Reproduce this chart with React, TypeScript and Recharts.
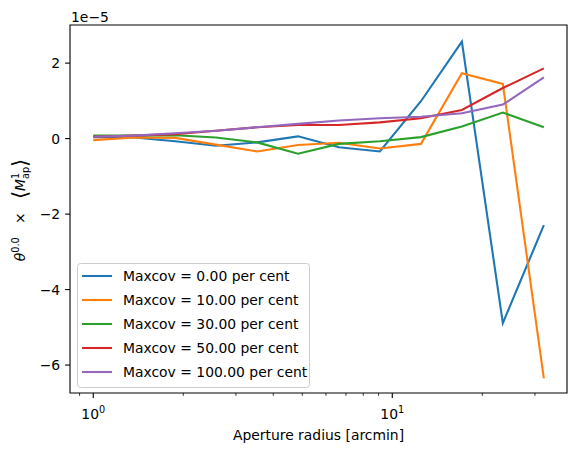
import React from "react";
import { LineChart, Line, XAxis, YAxis, ReferenceArea, Legend } from "recharts";

const radii = [1.0, 1.37, 1.88, 2.57, 3.53, 4.84, 6.63, 9.09, 12.47, 17.09, 23.43, 32.13];
const seriesNames = [
  "Maxcov = 0.00 per cent",
  "Maxcov = 10.00 per cent",
  "Maxcov = 30.00 per cent",
  "Maxcov = 50.00 per cent",
  "Maxcov = 100.00 per cent",
];
const maxcov0 = [0.04, 0.03, -0.07, -0.19, -0.1, 0.06, -0.23, -0.34, 0.99, 2.57, -4.89, -2.29];
const maxcov10 = [-0.04, 0.03, 0.02, -0.16, -0.34, -0.17, -0.11, -0.26, -0.14, 1.73, 1.45, -6.35];
const maxcov30 = [0.08, 0.08, 0.09, 0.03, -0.1, -0.4, -0.14, -0.07, 0.04, 0.32, 0.69, 0.3];
const maxcov50 = [0.05, 0.08, 0.12, 0.21, 0.3, 0.36, 0.36, 0.43, 0.54, 0.76, 1.34, 1.86];
const maxcov100 = [0.05, 0.08, 0.14, 0.21, 0.3, 0.39, 0.48, 0.54, 0.58, 0.67, 0.9, 1.62];
const seriesValues = [maxcov0, maxcov10, maxcov30, maxcov50, maxcov100];
const colors = ["#1f77b4", "#ff7f0e", "#2ca02c", "#d62728", "#9467bd"];

const xTicks = [0.9, 1, 2, 3, 4, 5, 6, 7, 8, 9, 10, 20, 30];
const xMajor = [1, 10];
const yTicks = [-6, -4, -2, 0, 2];
const X_DOMAIN = [0.836, 38.4];
const Y_DOMAIN = [-6.74, 3.01];
const OFFSET_TEXT = "1e\u22125";

const data = radii.map((r, i) => {
  const row: any = { r };
  seriesValues.forEach((s, k) => {
    row["s" + k] = s[i];
  });
  return row;
});

const FONT = "DejaVu Sans";
const FS = 13.9;

const XTick = (props: any) => {
  const { x, y, payload } = props;
  const major = xMajor.includes(payload.value);
  const exp = Math.round(Math.log10(payload.value));
  return (
    <g>
      <line x1={x} x2={x} y1={y} y2={y + (major ? 4.9 : 2.8)} stroke="#000" strokeWidth={major ? 1.1 : 0.8} />
      {major && (
        <text x={x} y={y + 26} textAnchor="middle" fontFamily={FONT} fontSize={FS} fill="#000">
          <tspan>10</tspan>
          <tspan dy={-6} fontSize={FS * 0.7}>{exp}</tspan>
        </text>
      )}
    </g>
  );
};

const YTick = (props: any) => {
  const { x, y, payload } = props;
  const v = payload.value;
  const label = v < 0 ? "\u2212" + Math.abs(v) : String(v);
  return (
    <g>
      <line x1={x - 4.9} x2={x} y1={y} y2={y} stroke="#000" strokeWidth={1.1} />
      <text x={x - 9.8} y={y + 5} textAnchor="end" fontFamily={FONT} fontSize={FS} fill="#000">
        {label}
      </text>
    </g>
  );
};

const LegendBox = () => (
  <svg width={236} height={126} style={{ display: "block" }}>
    <rect x={0.5} y={0.5} width={232} height={124} rx={3} ry={3} fill="#fff" fillOpacity={0.8} stroke="#cccccc" strokeWidth={1} />
    {seriesNames.map((n, i) => (
      <g key={n}>
        <line x1={5} x2={35} y1={13 + i * 24} y2={13 + i * 24} stroke={colors[i]} strokeWidth={2.1} />
        <text x={46} y={18 + i * 24} fontFamily={FONT} fontSize={FS} fill="#000">
          {n}
        </text>
      </g>
    ))}
  </svg>
);

export default function App() {
  return (
    <div style={{ position: "absolute", left: 0, top: 0, width: 576, height: 452, background: "#fff" }}>
      <LineChart width={576} height={452} data={data} margin={{ top: 25, right: 9, bottom: 0, left: 0 }}>
        <XAxis
          dataKey="r"
          type="number"
          scale="log"
          domain={X_DOMAIN}
          allowDataOverflow
          ticks={xTicks}
          interval={0}
          height={59}
          tickSize={0}
          tickMargin={0}
          tickLine={false}
          axisLine={false}
          tick={<XTick />}
        />
        <YAxis
          type="number"
          domain={Y_DOMAIN}
          allowDataOverflow
          ticks={yTicks}
          interval={0}
          width={70}
          tickSize={0}
          tickMargin={0}
          tickLine={false}
          axisLine={false}
          tick={<YTick />}
        />
        {seriesValues.map((_, k) => (
          <Line
            key={k}
            dataKey={"s" + k}
            name={seriesNames[k]}
            stroke={colors[k]}
            strokeWidth={2.1}
            dot={false}
            activeDot={false}
            isAnimationActive={false}
            type="linear"
          />
        ))}
        <ReferenceArea
          x1={X_DOMAIN[0]}
          x2={X_DOMAIN[1]}
          y1={Y_DOMAIN[0]}
          y2={Y_DOMAIN[1]}
          fill="none"
          fillOpacity={0}
          stroke="#000"
          strokeWidth={1.1}
          ifOverflow="visible"
        />
        <Legend
          layout="horizontal"
          verticalAlign="middle"
          align="center"
          content={<LegendBox />}
          wrapperStyle={{ left: 77, top: 263, width: 236, height: 126 }}
        />
      </LineChart>
      <svg width={576} height={452} style={{ position: "absolute", left: 0, top: 0, pointerEvents: "none" }}>
        <text x={71} y={21.5} fontFamily={FONT} fontSize={FS} fill="#000">{OFFSET_TEXT}</text>
        <text x={318.5} y={440} textAnchor="middle" fontFamily={FONT} fontSize={FS} fill="#000">
          Aperture radius [arcmin]
        </text>
        <text transform="translate(25,210) rotate(-90)" textAnchor="middle" fontFamily={FONT} fontSize={FS} fill="#000" xmlSpace="preserve">
          <tspan fontStyle="italic">θ</tspan>
          <tspan dy={-6} fontSize={FS * 0.7}>0.0</tspan>
          <tspan dy={6}>{"   ×   "}</tspan>
          <tspan fontSize={FS * 1.5} dy={2} fontWeight={200}>⟨</tspan>
          <tspan fontStyle="italic" dy={-2}>M</tspan>
          <tspan dy={-6} fontSize={FS * 0.7}>1</tspan>
          <tspan dx={-6} dy={10} fontSize={FS * 0.7}>ap</tspan>
          <tspan dy={-2} fontSize={FS * 1.5} fontWeight={200}>⟩</tspan>
        </text>
      </svg>
    </div>
  );
}
